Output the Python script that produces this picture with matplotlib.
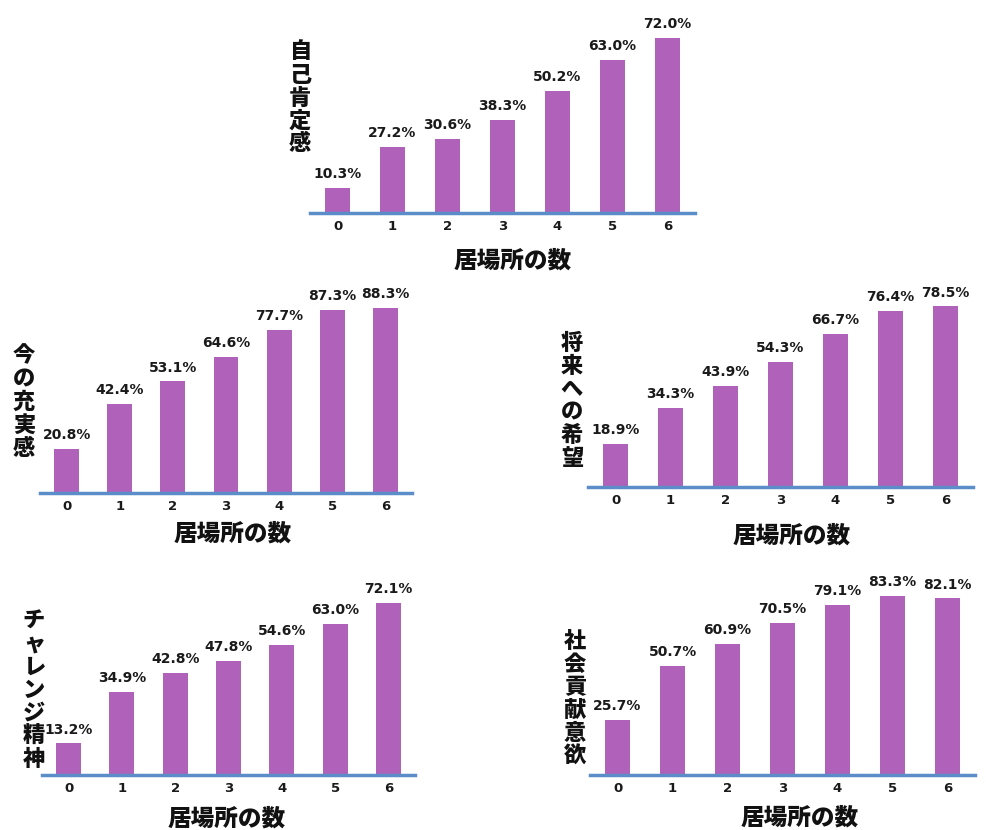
import matplotlib
matplotlib.use("Agg")
import matplotlib.pyplot as plt

plt.rcParams["font.family"] = ["DejaVu Sans"]

W, H = 986, 830

counts = ["0", "1", "2", "3", "4", "5", "6"]
xlabel = "居場所の数"

titles = ["自己肯定感", "今の充実感", "将来への希望", "チャレンジ精神", "社会貢献意欲"]
self_esteem = [10.3, 27.2, 30.6, 38.3, 50.2, 63.0, 72.0]
fulfillment = [20.8, 42.4, 53.1, 64.6, 77.7, 87.3, 88.3]
hope = [18.9, 34.3, 43.9, 54.3, 66.7, 76.4, 78.5]
challenge = [13.2, 34.9, 42.8, 47.8, 54.6, 63.0, 72.1]
contribution = [25.7, 50.7, 60.9, 70.5, 79.1, 83.3, 82.1]
series = [self_esteem, fulfillment, hope, challenge, contribution]

# pixel layout: left, right, baseline, px per %, ylabel x, ylabel y, xlabel x, xlabel y
layout = [
    (310, 695, 213, 2.43, 300, 98, 513, 260),
    (40, 412, 493, 2.10, 24, 402, 233, 533),
    (588, 973, 487, 2.30, 572, 401, 792, 535),
    (42, 415, 775, 2.39, 34, 690, 227, 818),
    (590, 975, 775, 2.15, 575, 699, 800, 817),
]

bar_color = "#b061b9"
line_color = "#5b8dc8"
jp = ["Noto Sans CJK JP", "DejaVu Sans"]

fig = plt.figure(figsize=(W / 100, H / 100), dpi=100)

for title, vals, (l, r, base, scale, ylx, yly, xlx, xly) in zip(titles, series, layout):
    h = min(95 * scale, base - 5)
    ax = fig.add_axes([l / W, 1 - base / H, (r - l) / W, h / H])
    x = list(range(len(counts)))
    bars = ax.bar(x, vals, width=0.47, color=bar_color)
    ax.set_xlim(-0.5, 6.5)
    ax.set_ylim(0, h / scale)
    for b, v in zip(bars, vals):
        ax.annotate(f"{v:.1f}%", (b.get_x() + b.get_width() / 2, v),
                    xytext=(0, 5), textcoords="offset points",
                    ha="center", va="bottom", fontsize=10, fontweight="bold",
                    color="#1a1a1a")
    ax.set_xticks(x)
    ax.set_xticklabels(counts, fontsize=9.5, fontweight="bold", color="#1a1a1a")
    ax.tick_params(axis="x", length=0, pad=5)
    ax.set_yticks([])
    for s in ["top", "left", "right"]:
        ax.spines[s].set_visible(False)
    ax.spines["bottom"].set_color(line_color)
    ax.spines["bottom"].set_linewidth(2.5)
    ax.patch.set_visible(False)

    fig.text(ylx / W, 1 - yly / H, "\n".join(title), family=jp, fontsize=16,
             fontweight="heavy", ha="center", va="center", linespacing=1.0,
             color="#111111")
    fig.text(xlx / W, 1 - xly / H, xlabel, family=jp, fontsize=17,
             fontweight="heavy", ha="center", va="center", color="#111111")

fig.savefig("out.png", dpi=100)
